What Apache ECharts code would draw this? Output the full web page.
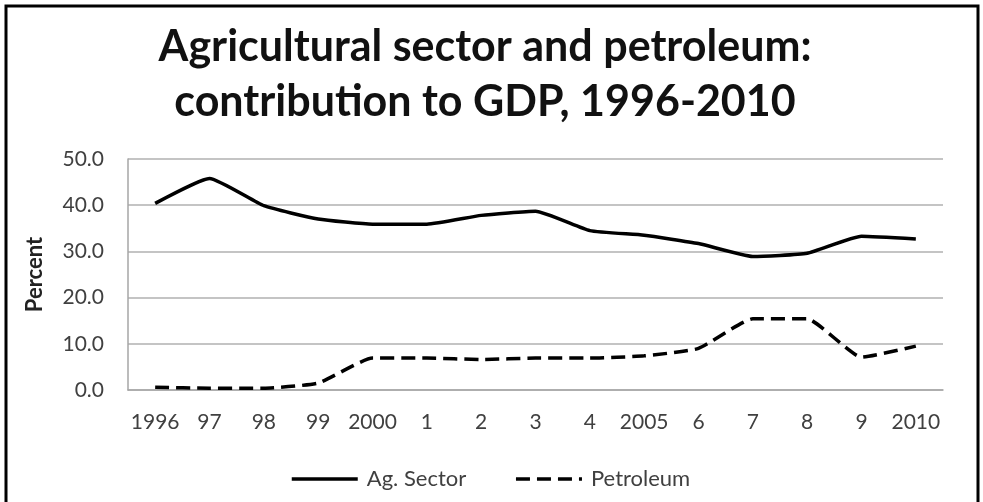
<!DOCTYPE html>
<html>
<head>
<meta charset="utf-8">
<script src="https://cdn.jsdelivr.net/npm/echarts@6/dist/echarts.min.js"></script>
<style>
html,body{margin:0;padding:0;background:#fff;}
#chart{width:983px;height:502px;}
</style>
</head>
<body>
<div id="chart"></div>
<script>
var categories = ['1996','97','98','99','2000','1','2','3','4','2005','6','7','8','9','2010'];
var agSector = [40.4, 45.8, 39.9, 37.0, 35.9, 35.9, 37.8, 38.7, 34.5, 33.5, 31.7, 28.9, 29.6, 33.3, 32.7];
var petroleum = [0.6, 0.4, 0.4, 1.5, 6.9, 6.9, 6.6, 6.9, 6.9, 7.4, 9.0, 15.4, 15.4, 7.1, 9.5];
var yTicks = {min: 0, max: 50, interval: 10};

var chart = echarts.init(document.getElementById('chart'));
var fontFam = 'Lato, "Open Sans", sans-serif';
chart.setOption({
  backgroundColor: '#fff',
  animation: false,
  graphic: [{
    type: 'rect',
    shape: {x: 6, y: 6, width: 972, height: 520},
    style: {fill: 'none', stroke: '#000', lineWidth: 3}
  }],
  title: {
    text: 'Agricultural sector and petroleum:\ncontribution to GDP, 1996-2010',
    left: 480,
    textAlign: 'center',
    top: 15,
    textStyle: {fontFamily: fontFam, fontSize: 43, fontWeight: 'bold', color: '#111', lineHeight: 55}
  },
  legend: {
    top: 463,
    left: 285,
    itemWidth: 66,
    itemHeight: 14,
    itemGap: 48,
    itemStyle: {opacity: 0},
    lineStyle: {width: 3.5},
    textStyle: {fontFamily: fontFam, fontSize: 22, color: '#404040', padding: [0, 0, 0, 4]},
    data: ['Ag. Sector', 'Petroleum']
  },
  grid: {left: 128, right: 40, top: 159, bottom: 112},
  xAxis: {
    type: 'category',
    data: categories,
    boundaryGap: true,
    axisLine: {show: true, lineStyle: {color: '#a6a6a6', width: 1.5}},
    axisTick: {show: false},
    axisLabel: {fontFamily: fontFam, fontSize: 21, color: '#404040', margin: 22, interval: 0}
  },
  yAxis: {
    type: 'value',
    min: yTicks.min, max: yTicks.max, interval: yTicks.interval,
    name: 'Percent',
    nameLocation: 'middle',
    nameGap: 82,
    nameTextStyle: {fontFamily: fontFam, fontSize: 22, fontWeight: 'bold', color: '#222'},
    axisLine: {show: true, lineStyle: {color: '#a6a6a6', width: 1.5}},
    axisTick: {show: false},
    axisLabel: {fontFamily: fontFam, fontSize: 21, color: '#404040', margin: 24, formatter: function(v){return v.toFixed(1);}},
    splitLine: {lineStyle: {color: '#b0b0b0', width: 1.5}}
  },
  series: [
    {
      name: 'Ag. Sector', type: 'line', data: agSector, symbol: 'none', smooth: 0.15,
      lineStyle: {color: '#000', width: 3.5, type: 'solid'},
      itemStyle: {color: '#000'}
    },
    {
      name: 'Petroleum', type: 'line', data: petroleum, symbol: 'none', smooth: 0.15,
      lineStyle: {color: '#000', width: 3.5, type: [14, 7]},
      itemStyle: {color: '#000'}
    }
  ]
});
</script>
</body>
</html>
